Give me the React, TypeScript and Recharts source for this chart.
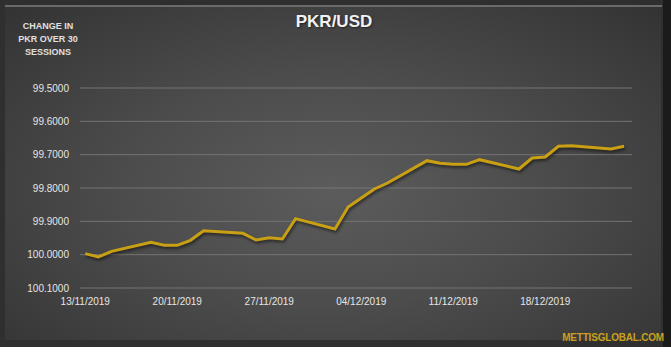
import React from "react";
import { LineChart, Line, XAxis, YAxis, CartesianGrid } from "recharts";

const sessionDates = [
  "13/11/2019", "14/11/2019", "15/11/2019", "18/11/2019", "19/11/2019", "20/11/2019",
  "21/11/2019", "22/11/2019", "25/11/2019", "26/11/2019", "27/11/2019", "28/11/2019",
  "29/11/2019", "02/12/2019", "03/12/2019", "04/12/2019", "05/12/2019", "06/12/2019",
  "09/12/2019", "10/12/2019", "11/12/2019", "12/12/2019", "13/12/2019", "16/12/2019",
  "17/12/2019", "18/12/2019", "19/12/2019", "20/12/2019", "23/12/2019", "24/12/2019",
];

const pkrPerUsd = [
  99.997, 100.007, 99.99, 99.963, 99.972, 99.972,
  99.957, 99.928, 99.936, 99.956, 99.949, 99.953,
  99.892, 99.923, 99.857, 99.83, 99.803, 99.785,
  99.718, 99.726, 99.729, 99.729, 99.715, 99.743,
  99.71, 99.707, 99.675, 99.673, 99.683, 99.675,
];

const xTickLabels = ["13/11/2019", "20/11/2019", "27/11/2019", "04/12/2019", "11/12/2019", "18/12/2019"];
const yTicks = [99.5, 99.6, 99.7, 99.8, 99.9, 100.0, 100.1];

const toUtc = (s: string) => {
  const [d, m, y] = s.split("/").map(Number);
  return Date.UTC(y, m - 1, d);
};
const DAY = 86400000;
const base = toUtc(sessionDates[0]);
const dayOf = (s: string) => Math.round((toUtc(s) - base) / DAY);

const data = sessionDates.map((d, i) => ({ day: dayOf(d), value: pkrPerUsd[i] }));
const xTicks = xTickLabels.map(dayOf);
const labelByDay: Record<number, string> = {};
xTickLabels.forEach((l) => (labelByDay[dayOf(l)] = l));

const FONT = "'Liberation Sans', Arial, sans-serif";

export default function App() {
  return (
    <div style={{ position: "absolute", left: 0, top: 0, width: 671, height: 352, background: "#ffffff", overflow: "hidden", fontFamily: FONT }}>
      <style>{`.recharts-line-curve { filter: drop-shadow(1px 2px 1.5px rgba(0,0,0,0.55)); }`}</style>
      <div style={{ position: "absolute", left: 0, top: 0, width: 663, height: 347, background: "#2f2f2f" }} />
      <div style={{ position: "absolute", left: 663, top: 0, width: 8, height: 347, background: "#1b1b1b" }} />
      <div
        style={{
          position: "absolute",
          left: 5,
          top: 7,
          width: 656,
          height: 333,
          background: "radial-gradient(ellipse at 50% 55%, #5c5c5c 0%, #4c4c4c 45%, #3a3a3a 85%, #333333 100%)",
        }}
      />
      <div style={{ position: "absolute", left: 5, top: 5, width: 657, height: 2, background: "#6a6a6a" }} />
      <div style={{ position: "absolute", left: 0, top: 0 }}>
        <LineChart width={671} height={352} data={data} margin={{ top: 88, right: 39, bottom: 34, left: 0 }}>
          <CartesianGrid horizontal={true} vertical={false} stroke="#747474" strokeWidth={1} />
          <XAxis
            dataKey="day"
            type="number"
            domain={[-0.4, 41.6]}
            ticks={xTicks}
            tickFormatter={(v: number) => labelByDay[v] ?? ""}
            axisLine={false}
            tickLine={false}
            tickMargin={4}
            height={30}
            interval={0}
            tick={{ fill: "#e6e6e6", fontSize: 10, fontFamily: FONT }}
          />
          <YAxis
            type="number"
            reversed={true}
            domain={[99.5, 100.1]}
            ticks={yTicks}
            tickFormatter={(v: number) => v.toFixed(4)}
            axisLine={false}
            tickLine={false}
            tickMargin={5}
            width={80}
            interval={0}
            tick={{ fill: "#e6e6e6", fontSize: 10, fontFamily: FONT }}
          />
          <Line
            type="linear"
            dataKey="value"
            stroke="#c9a014"
            strokeWidth={3}
            dot={false}
            isAnimationActive={false}
          />
        </LineChart>
      </div>
      <div style={{ position: "absolute", left: 234, top: 11, width: 200, textAlign: "center", color: "#f2f2f2", fontWeight: "bold", fontSize: 17, lineHeight: "22px", textShadow: "1px 1px 2px rgba(0,0,0,0.5)" }}>
        PKR/USD
      </div>
      <div style={{ position: "absolute", left: 8, top: 20, width: 80, textAlign: "center", color: "#e0e0e0", fontWeight: "bold", fontSize: 9, lineHeight: "13px" }}>
        CHANGE IN
        <br />
        PKR OVER 30
        <br />
        SESSIONS
      </div>
      <div style={{ position: "absolute", left: 540, top: 331, width: 124, textAlign: "right", color: "#c9a01e", fontWeight: "bold", fontSize: 10, lineHeight: "14px", letterSpacing: -0.2 }}>
        METTISGLOBAL.COM
      </div>
    </div>
  );
}
